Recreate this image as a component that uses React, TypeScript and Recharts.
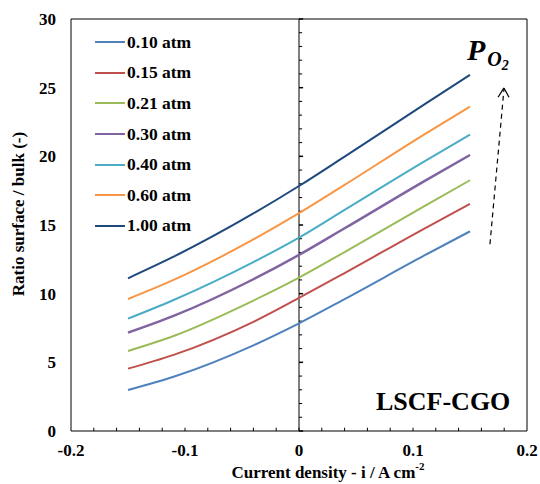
import React from 'react';
import { LineChart, Line, XAxis, YAxis, Legend, ReferenceLine, ReferenceArea } from 'recharts';

// current density (A/cm2) where the curves were read
const CURRENT = [-0.15, -0.11, -0.04, 0, 0.04, 0.11, 0.15];

// ratio surface / bulk for each oxygen partial pressure
const P010 = [2.99, 3.95, 6.24, 7.84, 9.6, 12.78, 14.54];
const P015 = [4.54, 5.54, 7.95, 9.69, 11.5, 14.74, 16.53];
const P021 = [5.83, 6.92, 9.5, 11.17, 13.03, 16.38, 18.26];
const P030 = [7.16, 8.38, 11.05, 12.82, 14.76, 18.2, 20.1];
const P040 = [8.18, 9.54, 12.3, 14.08, 16.1, 19.63, 21.58];
const P060 = [9.61, 11.0, 13.95, 15.86, 17.92, 21.6, 23.62];
const P100 = [11.12, 12.69, 15.84, 17.84, 19.98, 23.78, 25.93];

const X_TICKS = [-0.2, -0.1, 0, 0.1, 0.2];
const Y_TICKS = [0, 5, 10, 15, 20, 25, 30];
const X_MINOR = Array.from({ length: 19 }, (_, k) => Math.round((-0.18 + k * 0.02) * 100) / 100);
const Y_MINOR = Array.from({ length: 31 }, (_, k) => k);

const SERIES = [
  { key: 'p010', name: '0.10 atm', color: '#4f81bd', values: P010 },
  { key: 'p015', name: '0.15 atm', color: '#c0504d', values: P015 },
  { key: 'p021', name: '0.21 atm', color: '#9bbb59', values: P021 },
  { key: 'p030', name: '0.30 atm', color: '#8064a2', values: P030 },
  { key: 'p040', name: '0.40 atm', color: '#4bacc6', values: P040 },
  { key: 'p060', name: '0.60 atm', color: '#f79646', values: P060 },
  { key: 'p100', name: '1.00 atm', color: '#1f497d', values: P100 },
];

const data = CURRENT.map((i, k) => {
  const row: Record<string, number> = { i };
  SERIES.forEach((s) => (row[s.key] = s.values[k]));
  return row;
});

const FONT = '"Liberation Serif", "Times New Roman", serif';
const tickStyle = { fill: '#000', fontSize: 17, fontWeight: 'bold', fontFamily: FONT };

function LegendBox({ payload }: any) {
  return (
    <div style={{ fontFamily: FONT, fontWeight: 'bold', fontSize: 17.5, color: '#000' }}>
      {(payload || []).map((p: any) => (
        <div key={p.value} style={{ display: 'flex', alignItems: 'center', height: 30.6 }}>
          <span style={{ width: 30, borderTop: `2px solid ${p.color}`, marginRight: 2 }} />
          {p.value}
        </div>
      ))}
    </div>
  );
}

function YTitle(props: any) {
  const vb = props.viewBox ?? { x: 0, y: 19, width: 71, height: 412 };
  const x = vb.x + 18;
  const y = vb.y + vb.height / 2 - 11;
  return (
    <text
      x={x}
      y={y}
      transform={`rotate(-90, ${x}, ${y})`}
      textAnchor="middle"
      dominantBaseline="central"
      style={{ ...tickStyle }}
    >
      Ratio surface / bulk (-)
    </text>
  );
}

function XTitle(props: any) {
  const vb = props.viewBox ?? { x: 71, y: 431, width: 456, height: 53 };
  return (
    <text
      x={vb.x + vb.width / 2 + 29}
      y={vb.y + 41}
      textAnchor="middle"
      dominantBaseline="central"
      style={{ ...tickStyle }}
    >
      Current density - i  / A cm
      <tspan fontSize={11} dy={-6}>-2</tspan>
    </text>
  );
}

export default function App() {
  return (
    <div style={{ position: 'fixed', left: 0, top: 0, width: 540, height: 484, background: '#fff' }}>
      <LineChart width={540} height={484} data={data} margin={{ top: 19, right: 13, bottom: 0, left: 0 }}>
        <XAxis
          dataKey="i"
          type="number"
          domain={[-0.2, 0.2]}
          ticks={X_TICKS}
          allowDataOverflow
          axisLine={false}
          tickLine={false}
          tickSize={0}
          tickMargin={13}
          height={53}
          tick={tickStyle}
          tickFormatter={(v: number) => String(v)}
          label={XTitle}
        />
        <YAxis
          type="number"
          domain={[0, 30]}
          ticks={Y_TICKS}
          axisLine={false}
          tickLine={false}
          tickSize={0}
          tickMargin={15}
          width={71}
          tick={tickStyle}
          label={YTitle}
        />
        <ReferenceArea x1={-0.2} x2={0.2} y1={0} y2={30} fill="none" fillOpacity={0} stroke="#000" strokeWidth={1} />
        <ReferenceLine x={0} stroke="#000" strokeWidth={1} />
        {Y_MINOR.map((v) => (
          <ReferenceLine
            key={`ym${v}`}
            segment={[{ x: 0, y: v }, { x: v % 5 === 0 ? 0.0036 : 0.0027, y: v }]}
            stroke="#000"
            strokeWidth={v % 5 === 0 ? 1.5 : 1}
          />
        ))}
        {X_MINOR.map((v) => (
          <ReferenceLine
            key={`xm${v}`}
            segment={[{ x: v, y: 0 }, { x: v, y: 0.24 }]}
            stroke="#000"
            strokeWidth={1}
          />
        ))}
        <ReferenceLine
          segment={[{ x: 0.1675, y: 13.6 }, { x: 0.1798, y: 24.9 }]}
          stroke="#000"
          strokeWidth={1.2}
          strokeDasharray="5 4"
        />
        <ReferenceLine segment={[{ x: 0.1746, y: 24.3 }, { x: 0.1798, y: 24.98 }]} stroke="#000" strokeWidth={1.2} />
        <ReferenceLine segment={[{ x: 0.1842, y: 24.3 }, { x: 0.1798, y: 24.98 }]} stroke="#000" strokeWidth={1.2} />
        {SERIES.map((s) => (
          <Line
            key={s.key}
            type="monotone"
            dataKey={s.key}
            name={s.name}
            stroke={s.color}
            strokeWidth={s.key === 'p030' ? 2.5 : 2}
            dot={false}
            isAnimationActive={false}
          />
        ))}
        <Legend
          layout="vertical"
          align="center"
          verticalAlign="middle"
          content={LegendBox}
          wrapperStyle={{ position: 'absolute', left: 95, top: 27, width: 'auto', height: 'auto' }}
        />
      </LineChart>
      <div
        style={{
          position: 'absolute',
          left: 467,
          top: 35,
          fontFamily: FONT,
          fontWeight: 'bold',
          fontStyle: 'italic',
          fontSize: 30,
          lineHeight: 1,
          whiteSpace: 'nowrap',
        }}
      >
        P
        <span style={{ fontSize: 20, position: 'relative', top: 6, marginLeft: 2 }}>O</span>
        <span style={{ fontSize: 14, position: 'relative', top: 10 }}>2</span>
      </div>
      <div
        style={{
          position: 'absolute',
          left: 376,
          top: 389,
          fontFamily: FONT,
          fontWeight: 'bold',
          fontSize: 26,
          lineHeight: '26px',
          whiteSpace: 'nowrap',
        }}
      >
        LSCF-CGO
      </div>
    </div>
  );
}
